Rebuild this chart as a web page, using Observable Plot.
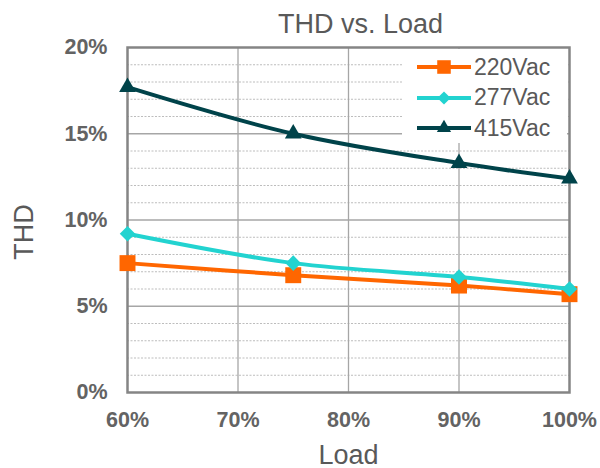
<!DOCTYPE html>
<html><head><meta charset="utf-8">
<script src="https://cdn.jsdelivr.net/npm/d3@7"></script>
<script src="https://cdn.jsdelivr.net/npm/@observablehq/plot@0.6"></script>
<style>
body{margin:0;background:#fff;font-family:"Liberation Sans",Arial,sans-serif;}
#wrap{position:relative;width:600px;height:468px;}
#legend{position:absolute;left:402px;top:49px;width:165px;height:94px;background:#fff;padding-top:3px;box-sizing:border-box;}
.row{display:flex;align-items:center;height:30.5px;font-size:23px;color:#595959;padding-left:14px;}
.row svg{margin-right:2px;}
</style></head><body>
<div id="wrap"><div id="legend"></div></div>
<script>
const loads = [60, 75, 90, 100];
const seriesNames = ["220Vac", "277Vac", "415Vac"];
const thd220 = [7.5, 6.8, 6.2, 5.7];
const thd277 = [9.2, 7.5, 6.7, 6.0];
const thd415 = [17.7, 15.0, 13.3, 12.4];
const yTicks = [0, 5, 10, 15, 20];
const xTicks = [60, 70, 80, 90, 100];
const minorY = [1,2,3,4,6,7,8,9,11,12,13,14,16,17,18,19];
const colors = ["#FF6600", "#22D3D0", "#00434A"];
const symbols = ["square", "diamond2", "triangle2"];
const rs = [9, 7, 8];

const allVals = [thd220, thd277, thd415];
const data = [];
seriesNames.forEach((s, i) => loads.forEach((l, j) => data.push({series: s, load: l, thd: allVals[i][j]})));

const font = "'Liberation Sans', Arial, sans-serif";
const marks = [
  Plot.ruleY(minorY, {stroke: "#bdbdbd", strokeWidth: 1, strokeDasharray: "2,1.5"}),
  Plot.ruleY([5, 10, 15], {stroke: "#a6a6a6", strokeWidth: 1.3}),
  Plot.ruleX([70, 80, 90], {stroke: "#a6a6a6", strokeWidth: 1.3}),
  Plot.frame({stroke: "#858585", strokeWidth: 2.5}),
  Plot.axisY({ticks: yTicks, tickSize: 0, tickPadding: 20, tickFormat: d => d + "%", fontSize: 21.5, fontWeight: "bold", fill: "#636363", label: null}),
  Plot.axisX({ticks: xTicks, tickSize: 0, tickPadding: 19, tickFormat: d => d + "%", fontSize: 21.5, fontWeight: "bold", fill: "#636363", label: null}),
];
seriesNames.forEach((s, i) => {
  const d = data.filter(r => r.series === s);
  marks.push(Plot.line(d, {x: "load", y: "thd", stroke: colors[i], strokeWidth: 4, curve: "catmull-rom"}));
  marks.push(Plot.dot(d, {x: "load", y: "thd", fill: colors[i], symbol: symbols[i], r: rs[i]}));
});
marks.push(Plot.text(["THD vs. Load"], {frameAnchor: "top", dy: -34, dx: 12, fontSize: 27, fill: "#595959"}));
marks.push(Plot.text(["Load"], {frameAnchor: "bottom", dy: 71, fontSize: 27, fill: "#595959"}));
marks.push(Plot.text(["THD"], {frameAnchor: "left", dx: -103, dy: 12, rotate: -90, textAnchor: "middle", fontSize: 27, fill: "#595959"}));

const chart = Plot.plot({
  width: 600, height: 468,
  marginLeft: 127, marginRight: 31, marginTop: 47, marginBottom: 76,
  x: {domain: [60, 100]},
  y: {domain: [0, 20]},
  style: {fontFamily: font, background: "#fff", overflow: "visible"},
  marks
});
const wrap = document.getElementById("wrap");
wrap.insertBefore(chart, wrap.firstChild);

const legend = document.getElementById("legend");
seriesNames.forEach((s, i) => {
  const row = document.createElement("div");
  row.className = "row";
  const w = 56, h = 24;
  const sym = d3.symbol().type([d3.symbolSquare, d3.symbolDiamond2, d3.symbolTriangle2][i]).size(Math.PI * (rs[i]*0.85) ** 2)();
  row.innerHTML = `<svg width="${w}" height="${h}"><line x1="1" x2="${w-1}" y1="${h/2}" y2="${h/2}" stroke="${colors[i]}" stroke-width="4"/><path transform="translate(${w/2},${h/2})" d="${sym}" fill="${colors[i]}"/></svg><span>${s}</span>`;
  legend.appendChild(row);
});
</script>
</body></html>
